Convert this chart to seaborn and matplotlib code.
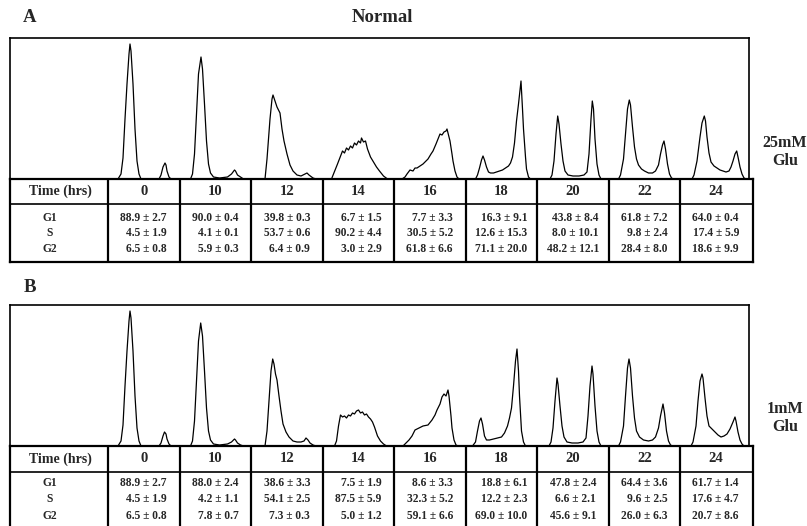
import matplotlib
matplotlib.use("Agg")
import matplotlib.pyplot as plt
import pandas as pd
import seaborn as sns

# ---------------- data ----------------
times = [0, 10, 12, 14, 16, 18, 20, 22, 24]
phases = ["G1", "S", "G2"]

# cell-cycle distribution (% of cells), mean and SD
A_G1_mean = [88.9, 90.0, 39.8, 6.7, 7.7, 16.3, 43.8, 61.8, 64.0]
A_G1_sd = [2.7, 0.4, 0.3, 1.5, 3.3, 9.1, 8.4, 7.2, 0.4]
A_S_mean = [4.5, 4.1, 53.7, 90.2, 30.5, 12.6, 8.0, 9.8, 17.4]
A_S_sd = [1.9, 0.1, 0.6, 4.4, 5.2, 15.3, 10.1, 2.4, 5.9]
A_G2_mean = [6.5, 5.9, 6.4, 3.0, 61.8, 71.1, 48.2, 28.4, 18.6]
A_G2_sd = [0.8, 0.3, 0.9, 2.9, 6.6, 20.0, 12.1, 8.0, 9.9]

B_G1_mean = [88.9, 88.0, 38.6, 7.5, 8.6, 18.8, 47.8, 64.4, 61.7]
B_G1_sd = [2.7, 2.4, 3.3, 1.9, 3.3, 6.1, 2.4, 3.6, 1.4]
B_S_mean = [4.5, 4.2, 54.1, 87.5, 32.3, 12.2, 6.6, 9.6, 17.6]
B_S_sd = [1.9, 1.1, 2.5, 5.9, 5.2, 2.3, 2.1, 2.5, 4.7]
B_G2_mean = [6.5, 7.8, 7.3, 5.0, 59.1, 69.0, 45.6, 26.0, 20.7]
B_G2_sd = [0.8, 0.7, 0.3, 1.2, 6.6, 10.0, 9.1, 6.3, 8.6]

# DNA-content histograms (channel within a 71.5-channel window, cell count)
A_hist_0 = [(0, 0), (10, 0), (13, 5), (15, 21), (17, 60), (19, 95), (21, 125), (22, 135), (23, 128), (25, 95),
            (27, 50), (29, 18), (31, 5), (33, 0), (51, 0), (53, 4), (55, 12), (57, 16), (58, 14), (59, 8),
            (61, 2), (63, 0), (72, 0)]
A_hist_10 = [(0, 0), (11, 0), (13, 5), (15, 25), (17, 65), (19, 105), (21.5, 122), (23, 110), (25, 75), (27, 38),
             (29, 15), (31, 6), (34, 2), (40, 1), (48, 2), (52, 5), (55, 9), (56, 8), (58, 4), (61, 2), (64, 0),
             (72, 0)]
A_hist_12 = [(0, 0), (14, 0), (16, 20), (19, 60), (21, 80), (22, 84), (24, 78), (26, 72), (29, 66), (31, 50),
             (33, 38), (36, 25), (39, 14), (42, 8), (46, 4), (50, 3), (54, 5), (56, 6), (58, 4), (62, 1), (65, 0),
             (72, 0)]
A_hist_14 = [(0, 0), (9, 0), (11, 5), (15, 15), (20, 28), (22, 26), (24, 31), (26, 29), (28, 33), (30, 31),
             (32, 36), (34, 34), (36, 38), (38, 36), (39, 41), (41, 37), (43, 38), (45, 30), (48, 22), (51, 17),
             (54, 12), (57, 8), (61, 3), (65, 0), (72, 0)]
A_hist_16 = [(0, 0), (8, 0), (11, 2), (13, 5), (16, 9), (19, 8), (21, 11), (23, 11), (26, 13), (29, 15), (31, 17),
             (34, 20), (37, 25), (39, 28), (42, 35), (44, 40), (46, 45), (48, 44), (50, 47), (52, 48), (53, 50),
             (54, 46), (56, 38), (58, 25), (59, 18), (61, 8), (63, 2), (65, 0), (72, 0)]
A_hist_18 = [(0, 0), (10, 0), (12, 4), (14, 11), (16, 19), (17.5, 23), (19, 19), (21, 12), (23, 7), (25, 6),
             (28, 6), (31, 7), (34, 8), (37, 9), (40, 11), (43, 13), (45, 16), (47, 22), (49, 36), (51, 58),
             (53, 75), (55.5, 98), (57, 70), (58, 50), (60, 22), (61, 10), (63, 2), (65, 0), (72, 0)]
A_hist_20 = [(0, 0), (13, 0), (15, 4), (17, 18), (19, 45), (20.7, 63), (22, 55), (24, 35), (26, 18), (28, 8),
             (31, 4), (36, 3), (42, 3), (47, 4), (50, 7), (52, 25), (54, 60), (55.3, 78), (56.5, 70), (58, 40),
             (60, 15), (62, 4), (64, 0), (72, 0)]
A_hist_22 = [(0, 0), (10, 0), (12, 4), (15, 20), (17, 45), (19, 70), (20.8, 79), (22, 74), (24, 52), (26, 32),
             (28, 20), (30, 14), (33, 10), (36, 8), (40, 6), (44, 6), (47, 8), (50, 14), (52, 25), (54, 34),
             (55.5, 38), (57, 30), (59, 15), (61, 5), (63, 1), (65, 0), (72, 0)]
A_hist_24 = [(0, 0), (12, 0), (14, 4), (17, 18), (20, 42), (22, 56), (24.3, 63), (25.5, 58), (27, 42), (29, 26),
             (31, 17), (34, 13), (37, 11), (40, 9), (43, 8), (46, 7), (49, 8), (51, 12), (53, 18), (55, 25),
             (56.7, 28), (58, 22), (60, 12), (62, 5), (64, 1), (66, 0), (69, 0)]

B_hist_0 = [(0, 0), (10, 0), (13, 5), (15, 21), (17, 60), (19, 95), (21, 125), (22, 135), (23, 128), (25, 95),
            (27, 50), (29, 18), (31, 5), (33, 0), (51, 0), (53, 3), (55, 10), (56.5, 14), (58, 12), (59, 7),
            (61, 2), (63, 0), (72, 0)]
B_hist_10 = [(0, 0), (11, 0), (13, 5), (15, 25), (17, 65), (19, 105), (21.2, 123), (23, 110), (25, 75), (27, 38),
             (29, 15), (31, 6), (34, 2), (40, 1), (48, 2), (52, 4), (55, 7), (56, 6), (58, 3), (61, 1), (64, 0),
             (72, 0)]
B_hist_12 = [(0, 0), (14, 0), (16, 15), (18, 45), (20, 75), (21.7, 87), (23, 82), (24.5, 72), (26, 66), (28, 50),
             (30, 35), (32, 22), (35, 14), (38, 9), (42, 5), (46, 4), (50, 4), (53, 5), (55, 8), (57, 6), (59, 3),
             (62, 1), (65, 0), (72, 0)]
B_hist_14 = [(0, 0), (12, 0), (14, 5), (16, 20), (18, 31), (20, 29), (22, 30), (24, 28), (26, 31), (28, 30),
             (30, 33), (32, 32), (34, 35), (36, 36), (38, 33), (40, 34), (42, 31), (44, 32), (46, 29), (48, 27),
             (50, 24), (52, 19), (55, 10), (58, 5), (61, 2), (64, 0), (72, 0)]
B_hist_16 = [(0, 0), (9, 0), (12, 3), (15, 6), (18, 10), (21, 16), (25, 18), (29, 20), (34, 21), (38, 26),
             (41, 31), (43, 36), (46, 42), (48, 49), (50, 52), (52, 50), (54, 56), (55, 50), (57, 30), (58, 18),
             (60, 6), (62, 1), (64, 0), (72, 0)]
B_hist_18 = [(0, 0), (7, 0), (10, 4), (12, 15), (14, 25), (15.5, 28), (17, 22), (19, 10), (21, 6), (24, 6),
             (28, 7), (32, 8), (36, 9), (39, 13), (42, 20), (44, 28), (46, 38), (48, 60), (50, 85), (51.5, 97),
             (53, 75), (54, 50), (56, 15), (58, 4), (60, 0), (72, 0)]
B_hist_20 = [(0, 0), (12, 0), (14, 4), (16, 18), (18, 45), (20, 68), (21, 62), (23, 40), (25, 20), (27, 9),
             (30, 4), (35, 3), (41, 3), (46, 4), (49, 8), (51, 30), (53, 60), (55, 80), (56, 72), (58, 40),
             (60, 15), (62, 4), (64, 0), (72, 0)]
B_hist_22 = [(0, 0), (10, 0), (12, 4), (15, 20), (17, 50), (19, 78), (20.5, 87), (22, 78), (24, 50), (26, 28),
             (28, 15), (31, 9), (35, 6), (40, 5), (44, 6), (47, 9), (50, 18), (52, 30), (54.5, 42), (56, 33),
             (58, 15), (60, 5), (62, 1), (64, 0), (72, 0)]
B_hist_24 = [(0, 0), (11, 0), (13, 4), (16, 20), (18, 45), (20, 65), (22, 72), (23, 68), (25, 48), (27, 30),
             (29, 20), (32, 17), (35, 14), (38, 11), (41, 9), (44, 10), (47, 12), (50, 17), (53, 24), (55, 29),
             (56, 25), (58, 14), (60, 6), (62, 2), (64, 0), (69, 0)]

A_hists = [A_hist_0, A_hist_10, A_hist_12, A_hist_14, A_hist_16, A_hist_18, A_hist_20, A_hist_22, A_hist_24]
B_hists = [B_hist_0, B_hist_10, B_hist_12, B_hist_14, B_hist_16, B_hist_18, B_hist_20, B_hist_22, B_hist_24]

# ---------------- style ----------------
sns.set_theme(style="white")
plt.rcParams["font.family"] = ["Liberation Serif", "DejaVu Serif"]
plt.rcParams["font.weight"] = "bold"

W, H = 807, 526
fig = plt.figure(figsize=(W / 100, H / 100), dpi=100)
fig.patch.set_facecolor("white")
renderer = fig.canvas.get_renderer()

COL0 = 108.0   # left edge of first data column (px)
CW = 71.5      # column width (px)
CH_WIDTH = 71.5  # channels spanned by one column window
CELL_FS = 8.3


def cx(px):
    return (px - COL0) / CW


def add_ax(x0, y0, x1, y1):
    return fig.add_axes([x0 / W, 1 - y1 / H, (x1 - x0) / W, (y1 - y0) / H])


def fmt(m, s):
    return f"{m:.1f} \u00b1 {s:.1f}"


def draw_panel(hists, means, sds, top, base, tab_hdr, tab_bot, row_ys, side_label, side_y, hide_bottom):
    # histogram strip
    ax = add_ax(10, top, 749, base)
    rows = []
    for i, pts in enumerate(hists):
        for ch, cnt in pts:
            rows.append({"curve": i, "pos": i + ch / CH_WIDTH, "count": cnt})
    df = pd.DataFrame(rows)
    sns.lineplot(data=df, x="pos", y="count", units="curve", estimator=None, sort=False,
                 color="black", lw=0.9, ax=ax, legend=False)
    ax.set_xlim(cx(10), cx(749))
    ax.set_ylim(0, base - top)
    ax.set_xticks([])
    ax.set_yticks([])
    ax.set_xlabel("")
    ax.set_ylabel("")
    ax.set_facecolor("none")
    for sp in ax.spines.values():
        sp.set_visible(True)
        sp.set_color("black")
        sp.set_linewidth(1.2)

    # table
    tb_bottom = tab_bot if not hide_bottom else 530
    tx = add_ax(10, base, 753, tb_bottom)
    tx.set_xlim(cx(10), cx(753))
    tx.set_ylim(tb_bottom, base)
    tx.set_xticks([])
    tx.set_yticks([])
    tx.set_facecolor("none")
    for sp in tx.spines.values():
        sp.set_visible(True)
        sp.set_color("black")
        sp.set_linewidth(1.6)
    if hide_bottom:
        tx.spines["bottom"].set_visible(False)
    tx.vlines(range(9), base, tb_bottom, color="black", lw=1.6)
    tx.hlines(tab_hdr, cx(10), cx(753), color="black", lw=1.2)

    hdr_y = (base + tab_hdr) / 2
    tx.text(cx(60), hdr_y, "Time (hrs)", ha="center", va="center", fontsize=10, fontweight="bold")
    for i, t in enumerate(times):
        tx.text(i + 0.5, hdr_y, str(t), ha="center", va="center", fontsize=10.5, fontweight="bold")
    for r, ph in enumerate(phases):
        tx.text(cx(50), row_ys[r], ph, ha="center", va="center", fontsize=CELL_FS, fontweight="bold")
    for i in range(len(times)):
        texts = []
        for r in range(3):
            t = tx.text(i + 0.5, row_ys[r], fmt(means[r][i], sds[r][i]), ha="right", va="center",
                        fontsize=CELL_FS, fontweight="bold")
            texts.append(t)
        wmax = max(t.get_window_extent(renderer).width for t in texts)
        for t in texts:
            t.set_x(i + 0.5 + (wmax / 2) / CW)

    fig.text(785 / W, 1 - side_y / H, side_label, ha="center", va="center", fontsize=11.5,
             fontweight="bold", linespacing=1.2)


draw_panel(A_hists, [A_G1_mean, A_S_mean, A_G2_mean], [A_G1_sd, A_S_sd, A_G2_sd],
           top=38, base=179, tab_hdr=204, tab_bot=262, row_ys=[218, 233.5, 249],
           side_label="25mM\nGlu", side_y=152, hide_bottom=False)
draw_panel(B_hists, [B_G1_mean, B_S_mean, B_G2_mean], [B_G1_sd, B_S_sd, B_G2_sd],
           top=305, base=446, tab_hdr=472, tab_bot=526, row_ys=[483, 499.5, 516],
           side_label="1mM\nGlu", side_y=418, hide_bottom=True)

fig.text(30 / W, 1 - 17 / H, "A", ha="center", va="center", fontsize=13.5, fontweight="bold")
fig.text(30 / W, 1 - 288 / H, "B", ha="center", va="center", fontsize=13.5, fontweight="bold")
fig.text(382 / W, 1 - 17 / H, "Normal", ha="center", va="center", fontsize=13.5, fontweight="bold")

fig.savefig("out.png", dpi=100, facecolor="white")
